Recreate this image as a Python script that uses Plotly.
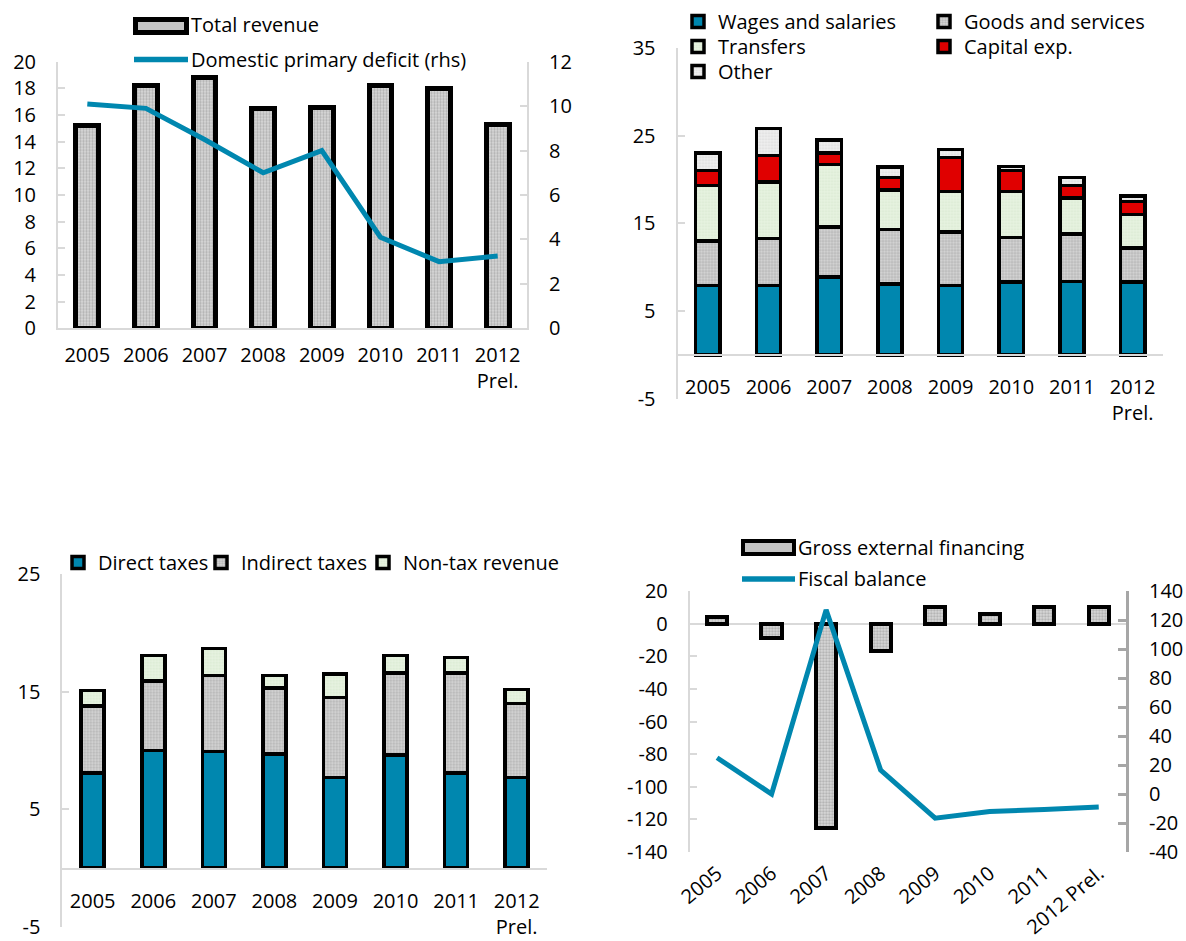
import plotly.graph_objects as go

W, H = 1186, 941

# ---------------- data ----------------
years = ["2005", "2006", "2007", "2008", "2009", "2010", "2011", "2012<br>Prel."]
years_rot = ["2005", "2006", "2007", "2008", "2009", "2010", "2011", "2012 Prel."]

total_revenue = [15.2, 18.2, 18.8, 16.5, 16.6, 18.2, 18.0, 15.3]
domestic_primary_deficit = [10.1, 9.9, 8.5, 7.0, 8.0, 4.1, 3.0, 3.25]

wages = [7.9, 7.9, 8.9, 8.1, 7.9, 8.3, 8.4, 8.3]
goods = [5.1, 5.4, 5.7, 6.2, 6.1, 5.1, 5.4, 3.9]
transfers = [6.3, 6.4, 7.1, 4.5, 4.6, 5.2, 4.1, 3.8]
capital = [1.7, 3.0, 1.3, 1.4, 3.9, 2.4, 1.4, 1.5]
other = [2.0, 3.1, 1.5, 1.2, 0.9, 0.5, 0.9, 0.6]

direct_taxes = [8.1, 10.0, 9.9, 9.7, 7.7, 9.6, 8.1, 7.7]
indirect_taxes = [5.7, 5.9, 6.5, 5.6, 6.8, 7.0, 8.5, 6.3]
nontax_revenue = [1.3, 2.2, 2.3, 1.1, 2.0, 1.5, 1.3, 1.2]

gross_external_financing = [4, -9, -125, -17, 10, 6, 10, 10]
fiscal_balance = [25, 0, 127, 16.5, -16.7, -12, -10.7, -9]

# tick values (labels use a plain hyphen for negatives, as in the original)
ticks_tr = [-5, 5, 15, 25, 35]
ticks_bl = [-5, 5, 15, 25]
ticks_br_left = [-140, -120, -100, -80, -60, -40, -20, 0, 20]
ticks_br_right = [-40, -20, 0, 20, 40, 60, 80, 100, 120, 140]

# ---------------- style ----------------
FONT = "Open Sans"
FS = 20
TEAL = "#0087AF"
RED = "#E00000"
AX = "#d9d9d9"
AX2 = "#a6a6a6"

def px(x):
    return x / W

def py(y):
    return 1 - y / H

gray_pat = dict(shape=".", bgcolor="#d8d8d8", fgcolor="#8a8a8a", size=3, solidity=0.45)
green_pat = dict(shape=".", bgcolor="#e8f3e2", fgcolor="#c9dfbf", size=3, solidity=0.4)
light_pat = dict(shape=".", bgcolor="#f0f0f0", fgcolor="#c8c8c8", size=3, solidity=0.4)

legfont = dict(family=FONT, size=FS, color="black")
legend_layouts = {}
legend_count = [1]

def new_legend(x_px, top_px):
    legend_count[0] += 1
    key = "legend%d" % legend_count[0]
    legend_layouts[key] = dict(x=px(x_px), y=py(top_px), xanchor="left", yanchor="top",
                               bgcolor="rgba(0,0,0,0)", font=legfont, tracegroupgap=0,
                               traceorder="normal", itemclick=False, itemdoubleclick=False)
    return key

fig = go.Figure()

# ---- top-left ----
fig.add_trace(go.Bar(x=years, y=total_revenue, xaxis="x", yaxis="y", width=0.39,
                     marker=dict(color="#d8d8d8", pattern=gray_pat, line=dict(color="black", width=5)),
                     name="Total revenue", showlegend=False))
fig.add_trace(go.Scatter(x=years, y=domestic_primary_deficit, xaxis="x", yaxis="y2", mode="lines",
                         line=dict(color=TEAL, width=5), name="Domestic primary deficit (rhs)",
                         showlegend=False))

# ---- top-right ----
for name, vals, col, pat, lx, ly in [
    ("Wages and salaries", wages, TEAL, None, 678, 2),
    ("Goods and services", goods, "#d8d8d8", gray_pat, 924, 2),
    ("Transfers", transfers, "#e8f3e2", green_pat, 678, 27),
    ("Capital exp.", capital, RED, None, 924, 27),
    ("Other", other, "#f0f0f0", light_pat, 678, 52),
]:
    m = dict(color=col, line=dict(color="black", width=3.5))
    if pat:
        m["pattern"] = pat
    fig.add_trace(go.Bar(x=years, y=vals, xaxis="x2", yaxis="y3", width=0.40, marker=m,
                         name=name, legend=new_legend(lx, ly)))

# ---- bottom-left ----
for name, vals, col, pat, lx in [
    ("Direct taxes", direct_taxes, TEAL, None, 58),
    ("Indirect taxes", indirect_taxes, "#d8d8d8", gray_pat, 201),
    ("Non-tax revenue", nontax_revenue, "#e8f3e2", green_pat, 363),
]:
    m = dict(color=col, line=dict(color="black", width=3.5))
    if pat:
        m["pattern"] = pat
    fig.add_trace(go.Bar(x=years, y=vals, xaxis="x3", yaxis="y4", width=0.38, marker=m,
                         name=name, legend=new_legend(lx, 543)))

# ---- bottom-right ----
fig.add_trace(go.Bar(x=years_rot, y=gross_external_financing, xaxis="x4", yaxis="y5", width=0.37,
                     marker=dict(color="#d8d8d8", pattern=gray_pat, line=dict(color="black", width=4)),
                     name="Gross external financing", showlegend=False))
fig.add_trace(go.Scatter(x=years_rot, y=fiscal_balance, xaxis="x4", yaxis="y6", mode="lines",
                         line=dict(color=TEAL, width=5), name="Fiscal balance", showlegend=False))

tickfont = dict(family=FONT, size=FS, color="black")

def yax(**kw):
    d = dict(showgrid=False, zeroline=False, showline=True, linecolor=AX, linewidth=2,
             ticks="inside", ticklen=7, tickwidth=2, tickcolor=AX, tickfont=tickfont,
             ticklabelstandoff=16, fixedrange=True, automargin=False)
    d.update(kw)
    return d

def xax(**kw):
    d = dict(showgrid=False, zeroline=False, showline=True, linecolor=AX, linewidth=2,
             ticks="", tickfont=tickfont, type="category", fixedrange=True, automargin=False)
    d.update(kw)
    return d

def tv(vals):
    return dict(tickmode="array", tickvals=vals, ticktext=[str(v) for v in vals])

# domains
tl_x = [px(58), px(527)]
tl_y = [py(328.3), py(61.7)]
tr_x = [px(677.5), px(1163)]
tr_y = [py(399), py(47.7)]
bl_x = [px(62.4), px(547)]
bl_y = [py(926.7), py(574.3)]
br_x = [px(689.8), px(1126)]
br_y = [py(852), py(591)]

fig.update_layout(
    width=W, height=H, margin=dict(l=0, r=0, t=0, b=0, autoexpand=False),
    paper_bgcolor="white", plot_bgcolor="white",
    font=dict(family=FONT, size=FS, color="black"),
    barmode="stack",
    xaxis=xax(domain=tl_x, anchor="y", ticklabelstandoff=8),
    yaxis=yax(domain=tl_y, anchor="x", range=[0, 20], dtick=2),
    yaxis2=yax(overlaying="y", side="right", anchor="x", range=[0, 12], dtick=2),
    xaxis2=xax(domain=tr_x, anchor="free", position=py(355.3), ticklabelstandoff=14),
    yaxis3=yax(domain=tr_y, anchor="x2", range=[-5, 35], **tv(ticks_tr)),
    xaxis3=xax(domain=bl_x, anchor="free", position=py(868.5), ticklabelstandoff=14),
    yaxis4=yax(domain=bl_y, anchor="x3", range=[-5, 25], **tv(ticks_bl)),
    xaxis4=xax(domain=br_x, anchor="y5", showline=False, tickangle=-40, ticklabelstandoff=5),
    yaxis5=yax(domain=br_y, anchor="x4", range=[-140, 20], **tv(ticks_br_left),
               zeroline=True, zerolinecolor=AX, zerolinewidth=2),
    yaxis6=yax(overlaying="y5", side="right", anchor="x4", range=[-40, 140], **tv(ticks_br_right),
               linecolor=AX2, linewidth=3, tickcolor=AX2, tickwidth=3, ticklen=8),
    **legend_layouts,
)

# manual legends with wide swatches (top-left and bottom-right)
shapes = []
annots = []

def bar_swatch(x0, y0, x1, y1, lw):
    shapes.append(dict(type="rect", xref="paper", yref="paper",
                       x0=px(x0 + lw / 2), x1=px(x1 - lw / 2), y0=py(y0 + lw / 2), y1=py(y1 - lw / 2),
                       line=dict(color="black", width=lw), fillcolor="#c4c4c4", layer="above"))

def line_swatch(x0, x1, y, lw):
    shapes.append(dict(type="line", xref="paper", yref="paper", x0=px(x0), x1=px(x1), y0=py(y), y1=py(y),
                       line=dict(color=TEAL, width=lw), layer="above"))

def label(x, y, text):
    annots.append(dict(xref="paper", yref="paper", x=px(x), y=py(y), text=text, showarrow=False,
                       xanchor="left", yanchor="middle", font=legfont))

bar_swatch(133, 17, 189, 35, 5)
label(189, 25, "Total revenue")
line_swatch(134, 188, 59.5, 5.5)
label(189, 59, "Domestic primary deficit (rhs)")

bar_swatch(741, 539, 796, 556, 4)
label(796, 547, "Gross external financing")
line_swatch(742, 795, 579, 5.5)
label(796, 578, "Fiscal balance")

fig.update_layout(shapes=shapes, annotations=annots)

fig.write_html("out.html")
